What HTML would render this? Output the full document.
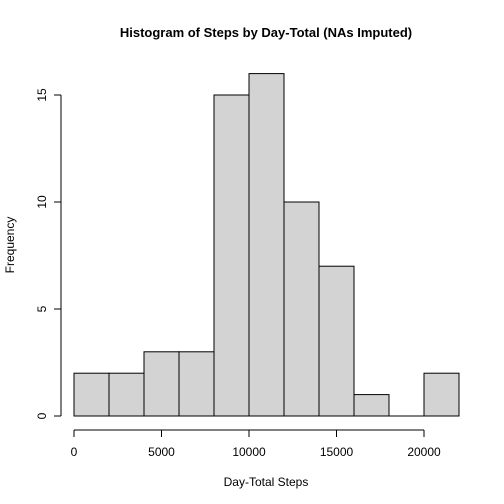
<!DOCTYPE html>
<html><head><meta charset="utf-8"><style>body{margin:0;background:#fff}svg{display:block}</style></head>
<body>
<svg id="chart" width="504" height="504" xmlns="http://www.w3.org/2000/svg" font-family="'Liberation Sans', Arial, sans-serif">
<rect width="504" height="504" fill="#fff"/>
<text x="266" y="37" text-anchor="middle" font-size="13" font-weight="bold">Histogram of Steps by Day-Total (NAs Imputed)</text>
<text x="266" y="486" text-anchor="middle" font-size="12">Day-Total Steps</text>
<text transform="translate(14,245) rotate(-90)" text-anchor="middle" font-size="12">Frequency</text>
<g id="bars"></g><g id="xaxis"></g><g id="yaxis"></g>
</svg>
<script>
const binEdges=[0,2000,4000,6000,8000,10000,12000,14000,16000,18000,20000,22000];
const counts=[2,2,3,3,15,16,10,7,1,0,2];
const xTicks=[0,5000,10000,15000,20000];
const yTicks=[0,5,10,15];
const NS="http://www.w3.org/2000/svg";
const xs=v=>74+v*(350/20000);
const ys=v=>416-v*(321/15);
function mk(t,a,p){const e=document.createElementNS(NS,t);for(const k in a)e.setAttribute(k,a[k]);p.appendChild(e);return e;}
const bars=document.getElementById('bars');
counts.forEach((c,i)=>{
  let r;
  if(c===0){
    r=mk('line',{x1:xs(binEdges[i]),x2:xs(binEdges[i+1]),y1:ys(0),y2:ys(0),stroke:'#000'},bars);
  } else {
    r=mk('rect',{x:xs(binEdges[i]),y:ys(c),width:xs(binEdges[i+1])-xs(binEdges[i]),height:ys(0)-ys(c),fill:'#d3d3d3',stroke:'#000','stroke-width':1},bars);
  }
  
  
});
const xa=document.getElementById('xaxis');
mk('line',{x1:xs(xTicks[0]),x2:xs(xTicks[xTicks.length-1]),y1:430,y2:430,stroke:'#000'},xa);
xTicks.forEach(t=>{
  mk('line',{x1:xs(t),x2:xs(t),y1:430,y2:437,stroke:'#000'},xa);
  const tx=mk('text',{x:xs(t),y:456,'text-anchor':'middle','font-size':12},xa);
  tx.textContent=t;
  
  
});
const ya=document.getElementById('yaxis');
mk('line',{x1:61,x2:61,y1:ys(yTicks[0]),y2:ys(yTicks[yTicks.length-1]),stroke:'#000'},ya);
yTicks.forEach(t=>{
  mk('line',{x1:54,x2:61,y1:ys(t),y2:ys(t),stroke:'#000'},ya);
  const tx=mk('text',{transform:`translate(46,${ys(t)}) rotate(-90)`,'text-anchor':'middle','font-size':12},ya);
  tx.textContent=t;
  
  
});
</script>
</body></html>
